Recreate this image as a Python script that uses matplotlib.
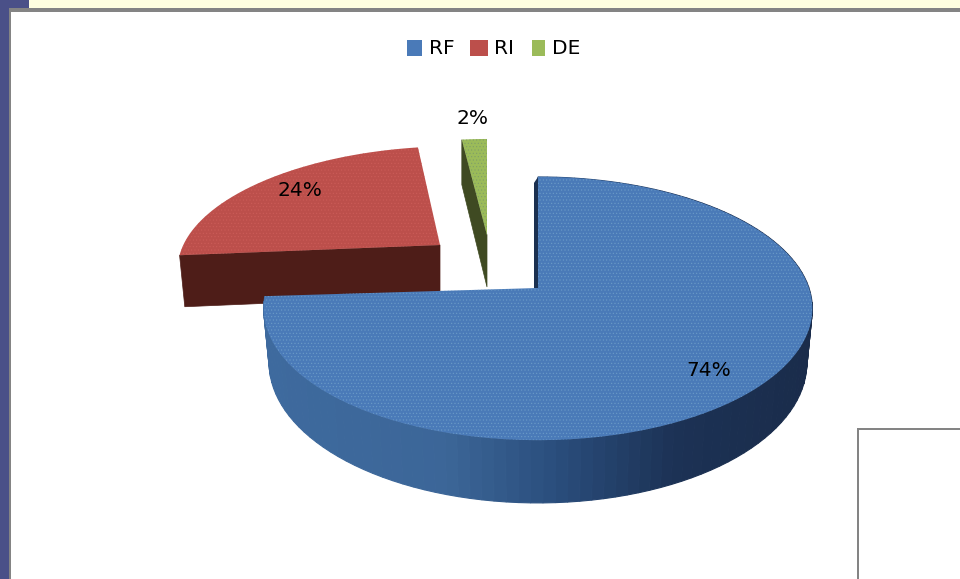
import numpy as np
from matplotlib import pyplot as plt
from matplotlib.patches import Polygon, Rectangle

# values
labels = ['RF', 'RI', 'DE']
shares = [74, 24, 2]
top_colors = ['#4a7ab8', '#bc4f4b', '#9bbb59']
speck_colors = ['#6c9cc8', '#cc5c58', '#7f9f68']
side_colors = ['#1b3050', '#4e1d18', '#3f4a22']
legend_x = [407, 470, 532]
legend_w = [15, 18, 13]
legend_text_x = [429, 494, 552]
label_pos = [(709, 371), (300, 190), (472, 119)]

# exploded slice placement in pixels: centre x, centre y, rx, ry
slice_geo = [(538, 288, 271, 128.4), (440, 245, 258, 114), (487, 235, 232, 111)]
# small shear per slice to follow the perspective of the exploded pieces
slice_shear = [(0, 0), (6, -3), (0, 0)]
persp = 0.156
depth = [53, 51, 52]
shrink = 0.98

BLUE_STOPS_X = [265, 450, 560, 680, 810]
BLUE_STOPS_RGB = [(62, 106, 158), (60, 102, 152), (42, 78, 125), (28, 50, 85), (26, 44, 75)]

plt.rcParams['hatch.linewidth'] = 0.4


def project(theta, i, d=0):
    # angle clockwise from 12 o'clock, d pushes the point down to the lower rim
    cx, cy, rx, ry = slice_geo[i]
    sx, sy = slice_shear[i]
    X, Y = np.sin(theta), np.cos(theta)
    w = 1 + persp * Y
    x = rx * X / w + sx * Y
    y = -ry * Y / w + sy * X
    if d:
        x = x * shrink
        y = y + d / w
    return cx + x, cy + y


def blue_shade(x):
    rgb = [np.interp(x, BLUE_STOPS_X, [c[i] for c in BLUE_STOPS_RGB]) / 255 for i in range(3)]
    return tuple(rgb)


fig = plt.figure(figsize=(9.6, 5.79), dpi=100)
ax = fig.add_axes([0, 0, 1, 1])
ax.set_xlim(0, 960)
ax.set_ylim(579, 0)
ax.axis('off')

# slide frame behind the chart
ax.add_patch(Rectangle((0, 0), 960, 579, fc='white', ec='none'))
ax.add_patch(Rectangle((29, 0), 931, 8, fc='#ffffe0', ec='none'))
ax.add_patch(Rectangle((0, 0), 29, 8, fc='#4a5088', ec='none'))
ax.add_patch(Rectangle((0, 0), 9, 579, fc='#4a5088', ec='none'))
ax.add_patch(Rectangle((9, 8), 951, 4, fc='#848484', ec='none'))
ax.add_patch(Rectangle((9, 8), 2, 571, fc='#848484', ec='none'))
ax.add_patch(Rectangle((857, 428), 103, 2, fc='#848484', ec='none'))
ax.add_patch(Rectangle((857, 428), 2, 151, fc='#848484', ec='none'))

fractions = np.array(shares) / sum(shares)
edges = np.concatenate([[0], np.cumsum(fractions)]) * 2 * np.pi

# red then green, blue goes last because it overlaps the red side
for i in [1, 2, 0]:
    geo = slice_geo[i]
    start, end = edges[i], edges[i + 1]
    th = np.linspace(start, end, 120)
    apex = (geo[0], geo[1])
    apex_low = (geo[0], geo[1] + depth[i])

    if i == 0:
        # curved outer wall with the left to right shading
        for a, b in zip(th[:-1], th[1:]):
            p0 = project(a, i)
            p1 = project(b, i)
            p2 = project(b, i, depth[i])
            p3 = project(a, i, depth[i])
            ax.add_patch(Polygon([p0, p1, p2, p3], fc=blue_shade(p0[0]), ec=blue_shade(p0[0]), lw=0.8))
        # thin cut face next to the notch
        p = project(start, i)
        ax.add_patch(Polygon([apex, (apex[0] - 4, apex[1]), (p[0] - 4, p[1] + 6), p],
                             fc=side_colors[i], ec='none'))
    elif i == 1:
        # front cut face
        p = project(start, i)
        pl = project(start, i, depth[i])
        ax.add_patch(Polygon([p, apex, apex_low, pl], fc=side_colors[i], ec=side_colors[i], lw=0.5))
    else:
        p = project(start, i)
        pl = project(start, i, depth[i])
        ax.add_patch(Polygon([p, apex, apex_low, (p[0], pl[1])], fc=side_colors[i], ec=side_colors[i], lw=0.5))

    pts = [apex] + [project(t, i) for t in th]
    ax.add_patch(Polygon(pts, fc=top_colors[i], ec='none'))
    ax.add_patch(Polygon(pts, fill=False, hatch='.....', ec=speck_colors[i], lw=0))

for lab, sx, sw, tx, col in zip(labels, legend_x, legend_w, legend_text_x, top_colors):
    ax.add_patch(Rectangle((sx, 40), sw, 16, fc=col, ec='none'))
    ax.text(tx, 48, lab, fontsize=14.5, color='black', va='center', ha='left')

for v, pos in zip(shares, label_pos):
    ax.text(pos[0], pos[1], f'{v}%', fontsize=14.5, color='black', va='center', ha='center')

fig.savefig('out.png', dpi=100)
